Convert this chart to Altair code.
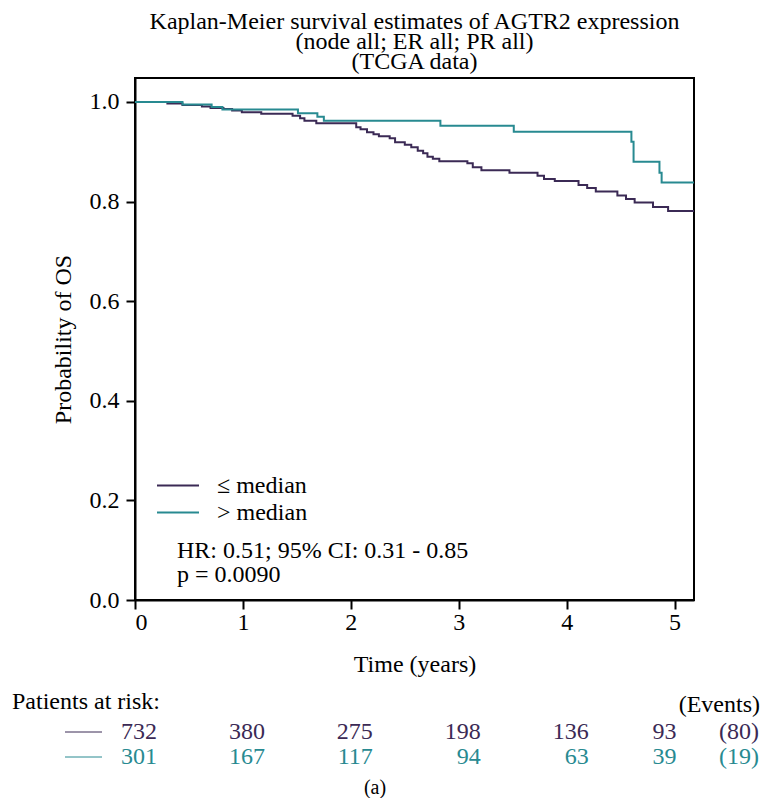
import altair as alt
import pandas as pd

FONT = "Liberation Serif"

groups = ["≤ median", "> median"]
colors = ["#3b2a55", "#288a91"]

# step points (time in years, survival after the step)
low_time = [0, 0.30, 0.44, 0.62, 0.70, 0.82, 0.90, 0.99, 1.17, 1.46, 1.53, 1.57, 1.68,
            2.05, 2.09, 2.15, 2.21, 2.26, 2.36, 2.41, 2.50, 2.56, 2.62, 2.67, 2.71, 2.76,
            2.82, 3.08, 3.13, 3.21, 3.47, 3.73, 3.79, 3.89, 4.11, 4.19, 4.27, 4.47, 4.55,
            4.63, 4.80, 4.94, 5.18]
low_surv = [1.0, 0.997, 0.994, 0.991, 0.988, 0.986, 0.983, 0.979, 0.976, 0.972, 0.967, 0.962, 0.957,
            0.949, 0.945, 0.939, 0.935, 0.931, 0.927, 0.919, 0.914, 0.909, 0.902, 0.897, 0.890, 0.886,
            0.881, 0.877, 0.869, 0.863, 0.858, 0.852, 0.845, 0.841, 0.833, 0.827, 0.820, 0.812, 0.805,
            0.798, 0.789, 0.781, 0.781]

high_time = [0, 0.44, 0.71, 0.81, 1.51, 1.69, 1.75, 2.83, 3.51, 4.60, 4.62, 4.86, 4.88, 5.18]
high_surv = [1.0, 0.995, 0.990, 0.985, 0.977, 0.970, 0.962, 0.952, 0.940, 0.920, 0.880, 0.858, 0.838, 0.838]

risk_times = [0, 1, 2, 3, 4, 5]
risk_low = [732, 380, 275, 198, 136, 93]
risk_high = [301, 167, 117, 94, 63, 39]
events = [80, 19]

title_lines = ["Kaplan-Meier survival estimates of AGTR2 expression",
               "(node all; ER all; PR all)",
               "(TCGA data)"]
stats_lines = ["HR: 0.51; 95% CI: 0.31 - 0.85", "p = 0.0090"]

curves = pd.DataFrame(
    [{"time": t, "surv": s, "group": groups[0]} for t, s in zip(low_time, low_surv)]
    + [{"time": t, "surv": s, "group": groups[1]} for t, s in zip(high_time, high_surv)]
)

xscale = alt.Scale(domain=[0, 5.18], nice=False, zero=False)
yscale = alt.Scale(domain=[0, 1.048], nice=False, zero=False)

x_enc = alt.X("time:Q", scale=xscale,
              axis=alt.Axis(values=risk_times, format="d", title="Time (years)",
                            labelPadding=1, titlePadding=18))
y_enc = alt.Y("surv:Q", scale=yscale,
              axis=alt.Axis(values=[0, 0.2, 0.4, 0.6, 0.8, 1.0], format=".1f",
                            title="Probability of OS", labelPadding=7, titlePadding=14))

lines = alt.Chart(curves).mark_line(interpolate="step-after", strokeWidth=2, clip=True).encode(
    x=x_enc, y=y_enc,
    color=alt.Color("group:N", scale=alt.Scale(domain=groups, range=colors),
                    legend=alt.Legend(orient="none", legendX=21, legendY=394, title=None,
                                      symbolType="stroke", symbolSize=1764,
                                      symbolStrokeWidth=2, labelOffset=17,
                                      labelFontSize=24, labelFont=FONT, labelColor="black",
                                      clipHeight=27, rowPadding=0, padding=0)),
    detail="group:N",
)

stats_layers = [
    alt.Chart(pd.DataFrame({"txt": [s]})).mark_text(
        align="left", baseline="middle", fontSize=24, font=FONT, color="black"
    ).encode(text="txt:N", x=alt.value(42), y=alt.value(yv))
    for s, yv in zip(stats_lines, [473, 497])
]

risk_layers = []
row_y = [654, 679]
for g, counts, col, ry, ev in zip(groups, [risk_low, risk_high], colors, row_y, events):
    df = pd.DataFrame({"time": risk_times, "n": counts})
    base = alt.Chart(df)
    risk_layers.append(base.transform_filter("datum.time < 5").mark_text(
        align="right", baseline="middle", fontSize=24, font=FONT, color=col, dx=22
    ).encode(x=alt.X("time:Q", scale=xscale), text="n:Q", y=alt.value(ry)))
    risk_layers.append(base.transform_filter("datum.time == 5").mark_text(
        align="right", baseline="middle", fontSize=24, font=FONT, color=col, dx=2
    ).encode(x=alt.X("time:Q", scale=xscale), text="n:Q", y=alt.value(ry)))
    risk_layers.append(alt.Chart(pd.DataFrame({"txt": [f"({ev})"]})).mark_text(
        align="right", baseline="middle", fontSize=24, font=FONT, color=col
    ).encode(text="txt:N", x=alt.value(624), y=alt.value(ry)))
    risk_layers.append(alt.Chart(pd.DataFrame({"g": [g]})).mark_rule(
        color=col, strokeWidth=1
    ).encode(x=alt.value(-70), x2=alt.value(-33), y=alt.value(ry)))

headers = [
    alt.Chart(pd.DataFrame({"txt": ["Patients at risk:"]})).mark_text(
        align="left", baseline="middle", fontSize=24, font=FONT, color="black"
    ).encode(text="txt:N", x=alt.value(-123), y=alt.value(624)),
    alt.Chart(pd.DataFrame({"txt": ["(Events)"]})).mark_text(
        align="right", baseline="middle", fontSize=24, font=FONT, color="black"
    ).encode(text="txt:N", x=alt.value(625), y=alt.value(627)),
    alt.Chart(pd.DataFrame({"txt": ["(a)"]})).mark_text(
        align="center", baseline="middle", fontSize=20, font=FONT, color="black"
    ).encode(text="txt:N", x=alt.value(240), y=alt.value(710)),
]

chart = alt.layer(lines, *stats_layers, *risk_layers, *headers).properties(
    width=559, height=522,
    title=alt.TitleParams(text=title_lines, fontSize=24, font=FONT, fontWeight="normal",
                          anchor="middle", offset=4, lineHeight=20, color="black"),
    autosize=alt.AutoSizeParams(type="none"),
    padding={"left": 127, "top": 70, "right": 67, "bottom": 198},
).configure(font=FONT).configure_view(
    stroke="black", strokeWidth=2
).configure_axis(
    grid=False, domainColor="black", domainWidth=2, tickColor="black", tickWidth=2,
    tickSize=9, labelFontSize=24, labelFont=FONT, labelColor="black",
    titleFontSize=24, titleFont=FONT, titleFontWeight="normal", titleColor="black",
)

chart.save("out.html", embed_options={"renderer": "svg", "actions": False})
